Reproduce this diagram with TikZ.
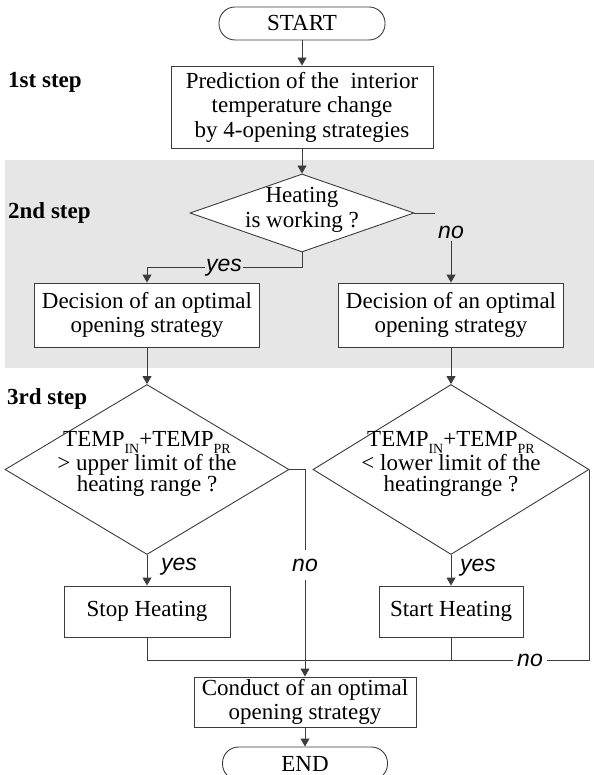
\documentclass[tikz,border=0pt]{standalone}
\usepackage{fontspec}
\setmainfont{Liberation Serif}
\newfontfamily\labfont{Liberation Sans}
\usetikzlibrary{shapes.geometric,arrows.meta}
\definecolor{bggray}{RGB}{230,230,230}
\definecolor{ln}{RGB}{60,60,60}
\newcommand\lowsub[1]{\raisebox{-0.32em}{\fontsize{14}{14}\selectfont #1}}
\begin{document}
\begin{tikzpicture}[x=1pt,y=-1pt,
 every node/.style={font=\fontsize{23}{24.5}\selectfont},
 box/.style={draw=ln, line width=0.9pt, fill=white, inner sep=0pt, align=center},
 term/.style={box, rounded corners=16pt},
 dia/.style={draw=ln, line width=0.9pt, fill=white, diamond, inner sep=0pt},
 txt/.style={align=center, inner sep=0pt},
 dtxt/.style={align=center, inner sep=0pt, font=\fontsize{23}{21}\selectfont},
 lab/.style={font=\labfont\itshape\fontsize{23}{23}\selectfont, inner sep=1pt},
 stp/.style={font=\bfseries\fontsize{23}{23}\selectfont, anchor=west, inner sep=0pt},
 conn/.style={draw=ln, line width=0.9pt},
 arr/.style={conn, -{Triangle[length=8pt,width=9pt]}}
]
\useasboundingbox (0,0) rectangle (594,775);
\fill[bggray] (5,160) rectangle (594,368);

% nodes
\node[term, minimum width=166pt, minimum height=33pt] (start) at (302,23.5) {START};
\node[box, minimum width=262pt, minimum height=82pt] (b1) at (302,107) {Prediction of the\ \ interior\\temperature change\\by 4-opening strategies};
\node[stp] (s1) at (8,82) {1st step};
\node[dia, minimum width=224pt, minimum height=78pt] (d1) at (302,213) {};
\node[txt] (t1) at (302,210) {Heating\\is working ?};
\node[stp] (s2) at (8,213) {2nd step};
\node[box, minimum width=225pt, minimum height=64pt] (b2L) at (147,315) {Decision of an optimal\\opening strategy};
\node[box, minimum width=225pt, minimum height=64pt] (b2R) at (451,315) {Decision of an optimal\\opening strategy};
\node[stp] (s3) at (7,399) {3rd step};
\node[dia, minimum width=284pt, minimum height=170pt] (d2L) at (147,469.5) {};
\node[dtxt] (t2L) at (147,464) {TEMP\lowsub{IN}+TEMP\lowsub{PR}\\> upper limit of the\\heating range ?};
\node[dia, minimum width=276pt, minimum height=170pt] (d2R) at (451,469.5) {};
\node[dtxt] (t2R) at (451,464) {TEMP\lowsub{IN}+TEMP\lowsub{PR}\\< lower limit of the\\heatingrange ?};
\node[box, minimum width=166pt, minimum height=51pt] (stop) at (147,611.5) {Stop Heating};
\node[box, minimum width=144pt, minimum height=51pt] (strt) at (451,611.5) {Start Heating};
\node[box, minimum width=222pt, minimum height=50pt] (cond) at (305,702) {Conduct of an optimal\\opening strategy};
\node[term, minimum width=165pt, minimum height=33pt] (end) at (305,763.5) {END};

\coordinate (ycor) at (302,267);
\coordinate (ncor) at (435,213);
\coordinate (hline) at (0,660);

% connectors
\draw[arr] (start) -- (b1);
\draw[arr] (b1) -- (d1);
\draw[arr] (d1.south) -- (ycor) -| (b2L.north);
\node[lab, fill=bggray] (y1) at (224,268) {yes};
\draw[conn] (d1.east) -- (ncor);
\node[lab, inner ysep=3pt] (n1) at (451,232) {no};
\draw[arr] (n1.south) -- (b2R.north);
\draw[arr] (b2L) -- (d2L);
\draw[arr] (b2R) -- (d2R);
\draw[arr] (d2L) -- (stop);
\node[lab] (y2) at (179,567) {yes};
\draw[arr] (d2R) -- (strt);
\node[lab] (y3) at (478,568) {yes};
\draw[conn] (d2R.east) -- (d2R.east |- hline) -- (stop.south |- hline) -- (stop.south);
\draw[conn] (strt.south) -- (strt.south |- hline);
\draw[arr] (d2L.east) -| (cond.north);
\node[lab, fill=white, inner ysep=9pt, inner xsep=3pt] (n2) at (305,565) {no};
\node[lab, fill=white, inner xsep=4pt, inner ysep=2pt] (n3) at (530,660) {no};
\draw[arr] (cond) -- (end);
\end{tikzpicture}
\end{document}
